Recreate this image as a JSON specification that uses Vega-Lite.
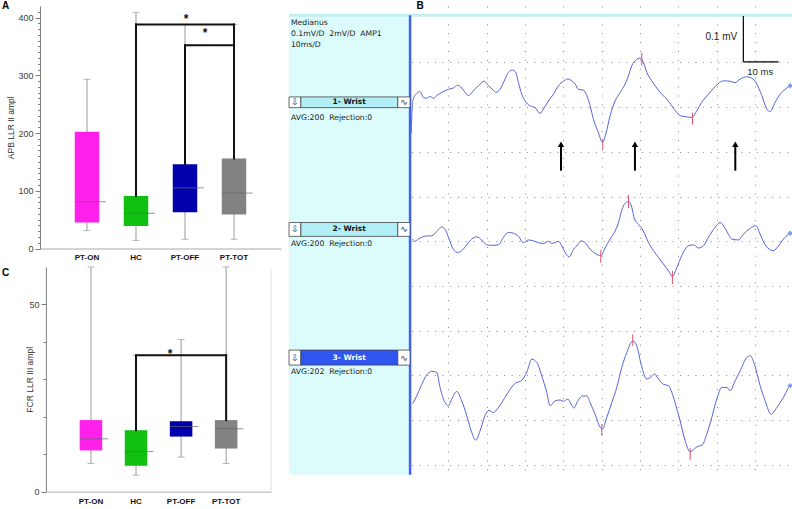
{
"$schema": "https://vega.github.io/schema/vega-lite/v6.json",
"background": "white",
"padding": {"left": 2, "top": 0, "right": 0, "bottom": 0},
"config": {"view": {"stroke": null}, "font": "Liberation Sans"},
"spacing": 6,
"hconcat": [
{
"bounds": "flush",
"spacing": 18,
"vconcat": [
{
"width": 241, "height": 242.5,
"title": {"text": "A", "anchor": "start", "frame": "group", "fontSize": 10, "fontWeight": "bold", "color": "#000000", "dx": -38, "offset": -4.8},
"data": {"values": [
{"group": "PT-ON", "lo": 31, "q1": 45, "med": 81, "q3": 202, "hi": 293},
{"group": "HC", "lo": 14, "q1": 39, "med": 61, "q3": 91, "hi": 409},
{"group": "PT-OFF", "lo": 16, "q1": 63, "med": 105, "q3": 146, "hi": 388},
{"group": "PT-TOT", "lo": 16, "q1": 59, "med": 96, "q3": 156, "hi": 388}
]},
"encoding": {"x": {"field": "group", "type": "nominal",
"scale": {"domain": ["PT-ON", "HC", "PT-OFF", "PT-TOT"], "paddingInner": 0.5, "paddingOuter": 0.709},
"axis": {"title": null, "ticks": false, "domainColor": "#a8a8a8", "labelFontSize": 8, "labelFontWeight": "bold", "labelColor": "#111111", "labelPadding": 5, "labelAngle": 0}}},
"resolve": {"axis": {"y": "independent"}},
"layer": [
{"layer": [
{"mark": {"type": "rule", "color": "#9a9a9a", "strokeWidth": 1},
"encoding": {"y": {"field": "lo", "type": "quantitative", "scale": {"domain": [0, 420], "nice": false},
"axis": {"orient": "left", "title": "APB LLR II ampl", "values": [0, 100, 200, 300, 400], "tickSize": 5,
"grid": false, "domainColor": "#808080", "tickColor": "#808080", "labelColor": "#404040", "labelFontSize": 9, "labelPadding": 2, "labelFlush": false,
"titleFontSize": 8.5, "titleFontWeight": "normal", "titleColor": "#333333", "titleX": -24.5}},
"y2": {"field": "hi"}}},
{"mark": {"type": "tick", "color": "#9a9a9a", "size": 7, "thickness": 1}, "encoding": {"y": {"field": "lo", "type": "quantitative"}}},
{"mark": {"type": "tick", "color": "#9a9a9a", "size": 7, "thickness": 1}, "encoding": {"y": {"field": "hi", "type": "quantitative"}}},
{"mark": {"type": "bar"}, "encoding": {"y": {"field": "q1", "type": "quantitative"}, "y2": {"field": "q3"},
"color": {"field": "group", "type": "nominal", "scale": {"domain": ["PT-ON", "HC", "PT-OFF", "PT-TOT"], "range": ["#ff20ec", "#12c012", "#0000ad", "#828282"]}, "legend": null}}},
{"mark": {"type": "tick", "color": "#666666", "size": 31, "thickness": 1, "xOffset": 3.25}, "encoding": {"y": {"field": "med", "type": "quantitative"}}},
{"data": {"values": [{}]}, "mark": {"type": "rule", "color": "#111111", "strokeWidth": 2, "strokeCap": "square"},
"encoding": {"x": {"datum": "HC", "type": "nominal"}, "y": {"datum": 91, "type": "quantitative"}, "y2": {"datum": 388}}},
{"data": {"values": [{}]}, "mark": {"type": "rule", "color": "#111111", "strokeWidth": 2, "strokeCap": "square"},
"encoding": {"x": {"datum": "HC", "type": "nominal"}, "x2": {"datum": "PT-TOT"}, "y": {"datum": 388, "type": "quantitative"}}},
{"data": {"values": [{}]}, "mark": {"type": "rule", "color": "#111111", "strokeWidth": 2, "strokeCap": "square"},
"encoding": {"x": {"datum": "PT-TOT", "type": "nominal"}, "y": {"datum": 156, "type": "quantitative"}, "y2": {"datum": 388}}},
{"data": {"values": [{}]}, "mark": {"type": "rule", "color": "#111111", "strokeWidth": 2, "strokeCap": "square"},
"encoding": {"x": {"datum": "PT-OFF", "type": "nominal"}, "y": {"datum": 146, "type": "quantitative"}, "y2": {"datum": 352}}},
{"data": {"values": [{}]}, "mark": {"type": "rule", "color": "#111111", "strokeWidth": 2, "strokeCap": "square"},
"encoding": {"x": {"datum": "PT-OFF", "type": "nominal"}, "x2": {"datum": "PT-TOT"}, "y": {"datum": 352, "type": "quantitative"}}},
{"data": {"values": [{}]}, "mark": {"type": "text", "text": "*", "fontSize": 12, "fontWeight": "bold", "baseline": "alphabetic", "xOffset": 1, "color": "#111111"},
"encoding": {"x": {"datum": "PT-OFF", "type": "nominal"}, "y": {"datum": 390, "type": "quantitative"}}},
{"data": {"values": [{}]}, "mark": {"type": "text", "text": "*", "fontSize": 12, "fontWeight": "bold", "baseline": "alphabetic", "xOffset": 20, "color": "#111111"},
"encoding": {"x": {"datum": "PT-OFF", "type": "nominal"}, "y": {"datum": 366, "type": "quantitative"}}}
]},
{"mark": {"type": "rule", "opacity": 0},
"encoding": {"y": {"field": "lo", "type": "quantitative",
"axis": {"orient": "left", "title": null, "labels": false, "domain": false, "grid": false, "tickSize": 2.5, "tickColor": "#808080",
"values": [0,10,20,30,40,50,60,70,80,90,100,110,120,130,140,150,160,170,180,190,200,210,220,230,240,250,260,270,280,290,300,310,320,330,340,350,360,370,380,390,400,410]}}}}
]
},
{
"width": 233, "height": 224.6,
"title": {"text": "C", "anchor": "start", "frame": "group", "fontSize": 10, "fontWeight": "bold", "color": "#000000", "dx": -38, "offset": -11.3},
"data": {"values": [
{"group": "PT-ON", "lo": 7.5, "q1": 11.0, "med": 14.1, "q3": 19.1, "hi": 60},
{"group": "HC", "lo": 4.4, "q1": 6.9, "med": 10.7, "q3": 16.4, "hi": 36.4},
{"group": "PT-OFF", "lo": 9.2, "q1": 14.7, "med": 17.4, "q3": 18.8, "hi": 40.6},
{"group": "PT-TOT", "lo": 7.5, "q1": 11.5, "med": 16.8, "q3": 19.1, "hi": 60}
]},
"encoding": {"x": {"field": "group", "type": "nominal",
"scale": {"domain": ["PT-ON", "HC", "PT-OFF", "PT-TOT"], "paddingInner": 0.5, "paddingOuter": 0.75, "range": [5.9, 231.2]},
"axis": {"title": null, "ticks": false, "domainColor": "#b0b0b0", "labelFontSize": 8, "labelFontWeight": "bold", "labelColor": "#111111", "labelPadding": 6, "labelAngle": 0}}},
"layer": [
{"mark": {"type": "rule", "color": "#9a9a9a", "strokeWidth": 1},
"encoding": {"y": {"field": "lo", "type": "quantitative", "scale": {"domain": [0, 60], "nice": false},
"axis": {"title": "FCR LLR III ampl", "values": [0,10,20,30,40,50],
"labelExpr": "datum.value % 50 === 0 ? datum.label : ''",
"tickSize": {"condition": {"test": "datum.value % 50 === 0", "value": 5}, "value": 3},
"offset": -5.9,
"grid": false, "domainColor": "#808080", "tickColor": "#808080", "labelColor": "#404040", "labelFontSize": 9, "labelPadding": 2, "labelOverlap": false, "labelFlush": false,
"titleFontSize": 8.5, "titleFontWeight": "normal", "titleColor": "#333333", "titleX": -11.2}},
"y2": {"field": "hi"}}},
{"mark": {"type": "tick", "color": "#9a9a9a", "size": 7, "thickness": 1}, "encoding": {"y": {"field": "lo", "type": "quantitative"}}},
{"mark": {"type": "tick", "color": "#9a9a9a", "size": 7, "thickness": 1}, "encoding": {"y": {"field": "hi", "type": "quantitative"}}},
{"mark": {"type": "bar"}, "encoding": {"y": {"field": "q1", "type": "quantitative"}, "y2": {"field": "q3"},
"color": {"field": "group", "type": "nominal", "scale": {"domain": ["PT-ON", "HC", "PT-OFF", "PT-TOT"], "range": ["#ff20ec", "#12c012", "#0000ad", "#828282"]}, "legend": null}}},
{"mark": {"type": "tick", "color": "#666666", "size": 28.5, "thickness": 1, "xOffset": 3}, "encoding": {"y": {"field": "med", "type": "quantitative"}}},
{"data": {"values": [{}]}, "mark": {"type": "rule", "color": "#e2e2e2", "strokeWidth": 1, "xOffset": 45},
"encoding": {"x": {"datum": "PT-TOT", "type": "nominal"}, "y": {"datum": 0, "type": "quantitative"}, "y2": {"datum": 59.6}}},
{"data": {"values": [{}]}, "mark": {"type": "rule", "color": "#111111", "strokeWidth": 2, "strokeCap": "square"},
"encoding": {"x": {"datum": "HC", "type": "nominal"}, "y": {"datum": 16.4, "type": "quantitative"}, "y2": {"datum": 36.4}}},
{"data": {"values": [{}]}, "mark": {"type": "rule", "color": "#111111", "strokeWidth": 2, "strokeCap": "square"},
"encoding": {"x": {"datum": "HC", "type": "nominal"}, "x2": {"datum": "PT-TOT"}, "y": {"datum": 36.4, "type": "quantitative"}}},
{"data": {"values": [{}]}, "mark": {"type": "rule", "color": "#111111", "strokeWidth": 2, "strokeCap": "square"},
"encoding": {"x": {"datum": "PT-TOT", "type": "nominal"}, "y": {"datum": 19.1, "type": "quantitative"}, "y2": {"datum": 36.4}}},
{"data": {"values": [{}]}, "mark": {"type": "text", "text": "*", "fontSize": 12, "fontWeight": "bold", "baseline": "alphabetic", "xOffset": -11, "color": "#111111"},
"encoding": {"x": {"datum": "PT-OFF", "type": "nominal"}, "y": {"datum": 35.6, "type": "quantitative"}}}
]
}
]
},
{
"width": 503, "height": 468.8,
"data": {"values": [{}]},
"layer": [
{"mark": {"type": "rect", "color": "#dcfcfc"},
"encoding": {"x": {"datum": -31.6, "type": "quantitative"}, "x2": {"datum": 0}, "y": {"datum": 1.0056, "type": "quantitative"}, "y2": {"datum": -0.0224}}},
{"mark": {"type": "rule", "color": "#c4eef0", "strokeWidth": 3},
"encoding": {"x": {"datum": -31.6, "type": "quantitative"}, "x2": {"datum": 99.7}, "y": {"datum": 1.0056, "type": "quantitative"}}},
{"data": {"values": [
{"trace":1,"ms":0.30,"mv":0.742},
{"trace":1,"ms":0.70,"mv":0.814},{"trace":1,"ms":1.74,"mv":0.831},{"trace":1,"ms":2.61,"mv":0.835},{"trace":1,"ms":3.48,"mv":0.822},{"trace":1,"ms":4.35,"mv":0.820},{"trace":1,"ms":5.22,"mv":0.824},{"trace":1,"ms":6.09,"mv":0.820},{"trace":1,"ms":6.96,"mv":0.826},{"trace":1,"ms":8.27,"mv":0.833},{"trace":1,"ms":10.01,"mv":0.840},{"trace":1,"ms":11.31,"mv":0.843},{"trace":1,"ms":12.45,"mv":0.849},{"trace":1,"ms":13.49,"mv":0.843},{"trace":1,"ms":14.36,"mv":0.833},{"trace":1,"ms":15.23,"mv":0.826},{"trace":1,"ms":16.54,"mv":0.837},{"trace":1,"ms":17.84,"mv":0.848},{"trace":1,"ms":19.41,"mv":0.858},{"trace":1,"ms":20.45,"mv":0.848},{"trace":1,"ms":21.76,"mv":0.838},{"trace":1,"ms":22.37,"mv":0.833},{"trace":1,"ms":23.50,"mv":0.840},{"trace":1,"ms":24.80,"mv":0.863},{"trace":1,"ms":25.67,"mv":0.878},{"trace":1,"ms":26.72,"mv":0.883},{"trace":1,"ms":27.59,"mv":0.878},{"trace":1,"ms":28.29,"mv":0.855},{"trace":1,"ms":29.16,"mv":0.829},{"trace":1,"ms":30.03,"mv":0.814},{"trace":1,"ms":31.33,"mv":0.803},{"trace":1,"ms":32.64,"mv":0.799},{"trace":1,"ms":33.94,"mv":0.786},{"trace":1,"ms":34.81,"mv":0.796},{"trace":1,"ms":36.12,"mv":0.814},{"trace":1,"ms":37.42,"mv":0.829},{"trace":1,"ms":38.73,"mv":0.848},{"trace":1,"ms":40.03,"mv":0.858},{"trace":1,"ms":41.17,"mv":0.863},{"trace":1,"ms":42.21,"mv":0.859},{"trace":1,"ms":43.08,"mv":0.852},{"trace":1,"ms":43.95,"mv":0.840},{"trace":1,"ms":45.26,"mv":0.838},{"trace":1,"ms":46.13,"mv":0.826},{"trace":1,"ms":47.00,"mv":0.803},{"trace":1,"ms":47.87,"mv":0.773},{"trace":1,"ms":49.17,"mv":0.743},{"trace":1,"ms":50.22,"mv":0.721},{"trace":1,"ms":51.09,"mv":0.740},{"trace":1,"ms":52.22,"mv":0.781},{"trace":1,"ms":53.52,"mv":0.814},{"trace":1,"ms":54.83,"mv":0.833},{"trace":1,"ms":56.14,"mv":0.852},{"trace":1,"ms":57.01,"mv":0.870},{"trace":1,"ms":57.88,"mv":0.893},{"trace":1,"ms":58.92,"mv":0.905},{"trace":1,"ms":60.05,"mv":0.910},{"trace":1,"ms":60.92,"mv":0.900},{"trace":1,"ms":61.79,"mv":0.878},{"trace":1,"ms":63.10,"mv":0.859},{"trace":1,"ms":64.40,"mv":0.843},{"trace":1,"ms":65.71,"mv":0.829},{"trace":1,"ms":67.01,"mv":0.818},{"trace":1,"ms":68.32,"mv":0.803},{"trace":1,"ms":69.63,"mv":0.788},{"trace":1,"ms":70.50,"mv":0.781},{"trace":1,"ms":71.80,"mv":0.779},{"trace":1,"ms":73.54,"mv":0.777},{"trace":1,"ms":74.85,"mv":0.792},{"trace":1,"ms":76.15,"mv":0.811},{"trace":1,"ms":77.89,"mv":0.829},{"trace":1,"ms":79.63,"mv":0.846},{"trace":1,"ms":81.81,"mv":0.859},{"trace":1,"ms":83.55,"mv":0.858},{"trace":1,"ms":84.86,"mv":0.855},{"trace":1,"ms":86.16,"mv":0.863},{"trace":1,"ms":87.90,"mv":0.868},{"trace":1,"ms":89.21,"mv":0.865},{"trace":1,"ms":90.51,"mv":0.852},{"trace":1,"ms":91.82,"mv":0.826},{"trace":1,"ms":93.12,"mv":0.796},{"trace":1,"ms":93.99,"mv":0.790},{"trace":1,"ms":95.30,"mv":0.811},{"trace":1,"ms":96.61,"mv":0.829},{"trace":1,"ms":97.91,"mv":0.840},{"trace":1,"ms":98.78,"mv":0.846},
{"trace":2,"ms":0.70,"mv":0.505},{"trace":2,"ms":1.31,"mv":0.500},{"trace":2,"ms":2.18,"mv":0.505},{"trace":2,"ms":3.05,"mv":0.509},{"trace":2,"ms":4.35,"mv":0.512},{"trace":2,"ms":5.66,"mv":0.512},{"trace":2,"ms":6.96,"mv":0.522},{"trace":2,"ms":8.27,"mv":0.532},{"trace":2,"ms":9.14,"mv":0.527},{"trace":2,"ms":10.01,"mv":0.509},{"trace":2,"ms":11.31,"mv":0.482},{"trace":2,"ms":12.45,"mv":0.475},{"trace":2,"ms":13.49,"mv":0.479},{"trace":2,"ms":14.80,"mv":0.492},{"trace":2,"ms":16.10,"mv":0.505},{"trace":2,"ms":17.41,"mv":0.510},{"trace":2,"ms":18.71,"mv":0.503},{"trace":2,"ms":20.02,"mv":0.492},{"trace":2,"ms":21.32,"mv":0.491},{"trace":2,"ms":23.06,"mv":0.492},{"trace":2,"ms":24.37,"mv":0.509},{"trace":2,"ms":25.67,"mv":0.520},{"trace":2,"ms":26.98,"mv":0.518},{"trace":2,"ms":28.29,"mv":0.511},{"trace":2,"ms":29.59,"mv":0.497},{"trace":2,"ms":30.90,"mv":0.503},{"trace":2,"ms":32.20,"mv":0.501},{"trace":2,"ms":33.51,"mv":0.497},{"trace":2,"ms":34.81,"mv":0.495},{"trace":2,"ms":36.12,"mv":0.500},{"trace":2,"ms":36.99,"mv":0.495},{"trace":2,"ms":37.86,"mv":0.497},{"trace":2,"ms":38.73,"mv":0.500},{"trace":2,"ms":39.60,"mv":0.490},{"trace":2,"ms":40.47,"mv":0.475},{"trace":2,"ms":41.51,"mv":0.465},{"trace":2,"ms":42.65,"mv":0.482},{"trace":2,"ms":43.78,"mv":0.492},{"trace":2,"ms":44.65,"mv":0.501},{"trace":2,"ms":45.69,"mv":0.497},{"trace":2,"ms":47.00,"mv":0.482},{"trace":2,"ms":48.30,"mv":0.473},{"trace":2,"ms":49.78,"mv":0.468},{"trace":2,"ms":50.91,"mv":0.485},{"trace":2,"ms":52.22,"mv":0.505},{"trace":2,"ms":53.52,"mv":0.523},{"trace":2,"ms":54.40,"mv":0.542},{"trace":2,"ms":55.27,"mv":0.570},{"trace":2,"ms":56.14,"mv":0.585},{"trace":2,"ms":57.01,"mv":0.589},{"trace":2,"ms":57.88,"mv":0.576},{"trace":2,"ms":58.57,"mv":0.550},{"trace":2,"ms":59.62,"mv":0.538},{"trace":2,"ms":60.92,"mv":0.523},{"trace":2,"ms":62.23,"mv":0.497},{"trace":2,"ms":63.53,"mv":0.479},{"trace":2,"ms":64.84,"mv":0.464},{"trace":2,"ms":66.14,"mv":0.449},{"trace":2,"ms":67.45,"mv":0.434},{"trace":2,"ms":68.49,"mv":0.421},{"trace":2,"ms":69.63,"mv":0.441},{"trace":2,"ms":70.93,"mv":0.468},{"trace":2,"ms":72.67,"mv":0.490},{"trace":2,"ms":73.98,"mv":0.492},{"trace":2,"ms":75.28,"mv":0.485},{"trace":2,"ms":76.59,"mv":0.490},{"trace":2,"ms":77.89,"mv":0.509},{"trace":2,"ms":79.63,"mv":0.531},{"trace":2,"ms":80.94,"mv":0.542},{"trace":2,"ms":82.25,"mv":0.529},{"trace":2,"ms":83.99,"mv":0.505},{"trace":2,"ms":85.73,"mv":0.503},{"trace":2,"ms":87.03,"mv":0.516},{"trace":2,"ms":88.77,"mv":0.529},{"trace":2,"ms":90.25,"mv":0.535},{"trace":2,"ms":91.38,"mv":0.516},{"trace":2,"ms":92.69,"mv":0.492},{"trace":2,"ms":94.86,"mv":0.479},{"trace":2,"ms":96.17,"mv":0.490},{"trace":2,"ms":97.48,"mv":0.505},{"trace":2,"ms":98.78,"mv":0.516},
{"trace":3,"ms":0.70,"mv":0.137},{"trace":3,"ms":1.74,"mv":0.154},{"trace":3,"ms":3.05,"mv":0.180},{"trace":3,"ms":4.35,"mv":0.201},{"trace":3,"ms":5.66,"mv":0.209},{"trace":3,"ms":6.96,"mv":0.207},{"trace":3,"ms":7.83,"mv":0.173},{"trace":3,"ms":9.14,"mv":0.139},{"trace":3,"ms":10.01,"mv":0.132},{"trace":3,"ms":10.88,"mv":0.147},{"trace":3,"ms":12.18,"mv":0.164},{"trace":3,"ms":13.49,"mv":0.143},{"trace":3,"ms":14.80,"mv":0.110},{"trace":3,"ms":16.10,"mv":0.072},{"trace":3,"ms":17.15,"mv":0.055},{"trace":3,"ms":18.28,"mv":0.076},{"trace":3,"ms":19.58,"mv":0.110},{"trace":3,"ms":20.63,"mv":0.122},{"trace":3,"ms":21.76,"mv":0.117},{"trace":3,"ms":23.06,"mv":0.128},{"trace":3,"ms":24.80,"mv":0.151},{"trace":3,"ms":26.11,"mv":0.169},{"trace":3,"ms":27.42,"mv":0.182},{"trace":3,"ms":29.16,"mv":0.189},{"trace":3,"ms":30.46,"mv":0.207},{"trace":3,"ms":31.77,"mv":0.236},{"trace":3,"ms":33.07,"mv":0.229},{"trace":3,"ms":34.38,"mv":0.199},{"trace":3,"ms":35.68,"mv":0.162},{"trace":3,"ms":36.55,"mv":0.132},{"trace":3,"ms":37.86,"mv":0.143},{"trace":3,"ms":39.16,"mv":0.145},{"trace":3,"ms":40.03,"mv":0.142},{"trace":3,"ms":41.17,"mv":0.147},{"trace":3,"ms":42.04,"mv":0.136},{"trace":3,"ms":42.73,"mv":0.127},{"trace":3,"ms":43.78,"mv":0.143},{"trace":3,"ms":45.08,"mv":0.154},{"trace":3,"ms":46.13,"mv":0.154},{"trace":3,"ms":47.00,"mv":0.139},{"trace":3,"ms":48.30,"mv":0.113},{"trace":3,"ms":49.61,"mv":0.084},{"trace":3,"ms":50.22,"mv":0.080},{"trace":3,"ms":51.35,"mv":0.106},{"trace":3,"ms":52.65,"mv":0.139},{"trace":3,"ms":53.96,"mv":0.173},{"trace":3,"ms":55.27,"mv":0.218},{"trace":3,"ms":56.57,"mv":0.251},{"trace":3,"ms":58.14,"mv":0.277},{"trace":3,"ms":59.18,"mv":0.266},{"trace":3,"ms":60.31,"mv":0.225},{"trace":3,"ms":61.79,"mv":0.192},{"trace":3,"ms":62.66,"mv":0.195},{"trace":3,"ms":63.79,"mv":0.203},{"trace":3,"ms":64.84,"mv":0.192},{"trace":3,"ms":66.14,"mv":0.180},{"trace":3,"ms":67.45,"mv":0.177},{"trace":3,"ms":68.32,"mv":0.162},{"trace":3,"ms":69.19,"mv":0.139},{"trace":3,"ms":70.50,"mv":0.098},{"trace":3,"ms":71.80,"mv":0.054},{"trace":3,"ms":73.11,"mv":0.029},{"trace":3,"ms":74.85,"mv":0.040},{"trace":3,"ms":76.33,"mv":0.045},{"trace":3,"ms":77.46,"mv":0.069},{"trace":3,"ms":78.76,"mv":0.106},{"trace":3,"ms":80.07,"mv":0.147},{"trace":3,"ms":81.38,"mv":0.173},{"trace":3,"ms":82.68,"mv":0.173},{"trace":3,"ms":83.55,"mv":0.166},{"trace":3,"ms":84.86,"mv":0.188},{"trace":3,"ms":86.16,"mv":0.210},{"trace":3,"ms":87.90,"mv":0.240},{"trace":3,"ms":88.77,"mv":0.244},{"trace":3,"ms":89.90,"mv":0.225},{"trace":3,"ms":91.38,"mv":0.177},{"trace":3,"ms":92.69,"mv":0.143},{"trace":3,"ms":94.25,"mv":0.113},{"trace":3,"ms":95.73,"mv":0.128},{"trace":3,"ms":97.48,"mv":0.151},{"trace":3,"ms":98.78,"mv":0.173}
]},
"mark": {"type": "line", "color": "#5464d8", "strokeWidth": 1, "interpolate": "monotone"},
"encoding": {
"x": {"field": "ms", "type": "quantitative", "scale": {"domain": [-31.6, 99.7], "nice": false, "zero": false},
"axis": {"title": null, "labels": false, "ticks": false, "domain": false, "grid": true, "values": [10,20,30,40,50,60,70,80,90], "gridColor": "#8a8a8a", "gridDash": [1, 7.9], "gridWidth": 1}},
"y": {"field": "mv", "type": "quantitative", "scale": {"domain": [-0.0224, 1.0264], "nice": false, "zero": false},
"axis": {"title": null, "labels": false, "ticks": false, "domain": false, "grid": true, "values": [0, 0.1, 0.2, 0.3, 0.4, 0.5, 0.6, 0.7, 0.8, 0.9], "gridColor": "#8a8a8a", "gridDash": [1, 6.66], "gridWidth": 1}},
"detail": {"field": "trace", "type": "nominal"}}},
{"mark": {"type": "rule", "color": "#4262ee", "strokeWidth": 2.5},
"encoding": {"x": {"datum": 0, "type": "quantitative"}, "y": {"datum": 1.0056, "type": "quantitative"}, "y2": {"datum": -0.0224}}},
{"data": {"values": [
{"trace":1,"ms":60.49,"top":0.922,"bot":0.893},{"trace":1,"ms":50.3,"top":0.729,"bot":0.706},{"trace":1,"ms":73.72,"top":0.788,"bot":0.761},
{"trace":2,"ms":49.78,"top":0.480,"bot":0.452},{"trace":2,"ms":57.01,"top":0.604,"bot":0.574},{"trace":2,"ms":68.49,"top":0.434,"bot":0.404},
{"trace":3,"ms":50.04,"top":0.091,"bot":0.065},{"trace":3,"ms":58.14,"top":0.292,"bot":0.266},{"trace":3,"ms":73.11,"top":0.037,"bot":0.010}
]},
"mark": {"type": "rule", "color": "#e0506a", "strokeWidth": 1},
"encoding": {"x": {"field": "ms", "type": "quantitative"}, "y": {"field": "top", "type": "quantitative"}, "y2": {"field": "bot"}}},
{"data": {"values": [{"trace":1,"mv":0.848},{"trace":2,"mv":0.518},{"trace":3,"mv":0.177}]},
"mark": {"type": "point", "shape": "diamond", "filled": true, "color": "#7b98f0", "size": 28, "opacity": 1},
"encoding": {"x": {"datum": 99.2, "type": "quantitative"}, "y": {"field": "mv", "type": "quantitative"}}},
{"data": {"values": [{"ms": 39.4}, {"ms": 58.7}, {"ms": 84.9}]},
"mark": {"type": "rule", "color": "#000000", "strokeWidth": 2},
"encoding": {"x": {"field": "ms", "type": "quantitative"}, "y": {"datum": 0.658, "type": "quantitative"}, "y2": {"datum": 0.712}}},
{"data": {"values": [{"ms": 39.4}, {"ms": 58.7}, {"ms": 84.9}]},
"mark": {"type": "point", "shape": "triangle-up", "filled": true, "color": "#000000", "size": 40, "opacity": 1},
"encoding": {"x": {"field": "ms", "type": "quantitative"}, "y": {"datum": 0.717, "type": "quantitative"}}},
{"mark": {"type": "rule", "color": "#000000", "strokeWidth": 1.2},
"encoding": {"x": {"datum": 87.0, "type": "quantitative"}, "y": {"datum": 1.004, "type": "quantitative"}, "y2": {"datum": 0.9016}}},
{"mark": {"type": "rule", "color": "#000000", "strokeWidth": 1.2},
"encoding": {"x": {"datum": 87.0, "type": "quantitative"}, "x2": {"datum": 96.2}, "y": {"datum": 0.9016, "type": "quantitative"}}},
{"mark": {"type": "text", "text": "0.1 mV", "align": "right", "baseline": "middle", "fontSize": 10, "color": "#222222"},
"encoding": {"x": {"datum": 85.4, "type": "quantitative"}, "y": {"datum": 0.957, "type": "quantitative"}}},
{"mark": {"type": "text", "text": "10 ms", "align": "center", "baseline": "middle", "fontSize": 9.5, "color": "#222222"},
"encoding": {"x": {"datum": 91.4, "type": "quantitative"}, "y": {"datum": 0.879, "type": "quantitative"}}},
{"mark": {"type": "text", "text": "B", "align": "center", "baseline": "top", "fontSize": 10, "fontWeight": "bold", "color": "#000000"},
"encoding": {"x": {"datum": 2.6, "type": "quantitative"}, "y": {"datum": 1.038, "type": "quantitative"}}},
{"mark": {"type": "text", "align": "left", "baseline": "top", "font": "DejaVu Sans", "fontSize": 7.7, "lineHeight": 11, "color": "#222222", "text": ["Medianus", "0.1mV/D\u00a0 2mV/D\u00a0 AMP1", "10ms/D"]},
"encoding": {"x": {"datum": -31.1, "type": "quantitative"}, "y": {"datum": 0.998, "type": "quantitative"}}},

{"mark": {"type": "rect", "fill": "#ffffff", "stroke": "#444444", "strokeWidth": 0.8},
"encoding": {"x": {"datum": -31.6, "type": "quantitative"}, "x2": {"datum": -28.5}, "y": {"datum": 0.823, "type": "quantitative"}, "y2": {"datum": 0.799}}},
{"mark": {"type": "rect", "fill": "#b2eef5", "stroke": "#444444", "strokeWidth": 0.8},
"encoding": {"x": {"datum": -28.5, "type": "quantitative"}, "x2": {"datum": -3.2}, "y": {"datum": 0.823, "type": "quantitative"}, "y2": {"datum": 0.799}}},
{"mark": {"type": "rect", "fill": "#ffffff", "stroke": "#444444", "strokeWidth": 0.8},
"encoding": {"x": {"datum": -3.2, "type": "quantitative"}, "x2": {"datum": 0}, "y": {"datum": 0.823, "type": "quantitative"}, "y2": {"datum": 0.799}}},
{"mark": {"type": "text", "text": "⇩", "align": "center", "baseline": "middle", "font": "DejaVu Sans", "fontSize": 9, "color": "#333333"},
"encoding": {"x": {"datum": -30.05, "type": "quantitative"}, "y": {"datum": 0.811, "type": "quantitative"}}},
{"mark": {"type": "text", "text": "∿", "align": "center", "baseline": "middle", "font": "DejaVu Sans", "fontSize": 9, "color": "#333333"},
"encoding": {"x": {"datum": -1.6, "type": "quantitative"}, "y": {"datum": 0.811, "type": "quantitative"}}},
{"mark": {"type": "text", "text": "1- Wrist", "align": "center", "baseline": "middle", "font": "DejaVu Sans", "fontSize": 7.5, "fontWeight": "bold", "color": "#111111"},
"encoding": {"x": {"datum": -15.9, "type": "quantitative"}, "y": {"datum": 0.811, "type": "quantitative"}}},
{"mark": {"type": "text", "text": "AVG:200\u00a0 Rejection:0", "align": "left", "baseline": "middle", "font": "DejaVu Sans", "fontSize": 7.7, "color": "#222222"},
"encoding": {"x": {"datum": -31.07, "type": "quantitative"}, "y": {"datum": 0.776, "type": "quantitative"}}},

{"mark": {"type": "rect", "fill": "#ffffff", "stroke": "#444444", "strokeWidth": 0.8},
"encoding": {"x": {"datum": -31.6, "type": "quantitative"}, "x2": {"datum": -28.5}, "y": {"datum": 0.542, "type": "quantitative"}, "y2": {"datum": 0.511}}},
{"mark": {"type": "rect", "fill": "#b2eef5", "stroke": "#444444", "strokeWidth": 0.8},
"encoding": {"x": {"datum": -28.5, "type": "quantitative"}, "x2": {"datum": -3.2}, "y": {"datum": 0.542, "type": "quantitative"}, "y2": {"datum": 0.511}}},
{"mark": {"type": "rect", "fill": "#ffffff", "stroke": "#444444", "strokeWidth": 0.8},
"encoding": {"x": {"datum": -3.2, "type": "quantitative"}, "x2": {"datum": 0}, "y": {"datum": 0.542, "type": "quantitative"}, "y2": {"datum": 0.511}}},
{"mark": {"type": "text", "text": "⇩", "align": "center", "baseline": "middle", "font": "DejaVu Sans", "fontSize": 9, "color": "#333333"},
"encoding": {"x": {"datum": -30.05, "type": "quantitative"}, "y": {"datum": 0.5265, "type": "quantitative"}}},
{"mark": {"type": "text", "text": "∿", "align": "center", "baseline": "middle", "font": "DejaVu Sans", "fontSize": 9, "color": "#333333"},
"encoding": {"x": {"datum": -1.6, "type": "quantitative"}, "y": {"datum": 0.5265, "type": "quantitative"}}},
{"mark": {"type": "text", "text": "2- Wrist", "align": "center", "baseline": "middle", "font": "DejaVu Sans", "fontSize": 7.5, "fontWeight": "bold", "color": "#111111"},
"encoding": {"x": {"datum": -15.9, "type": "quantitative"}, "y": {"datum": 0.5265, "type": "quantitative"}}},
{"mark": {"type": "text", "text": "AVG:200\u00a0 Rejection:0", "align": "left", "baseline": "middle", "font": "DejaVu Sans", "fontSize": 7.7, "color": "#222222"},
"encoding": {"x": {"datum": -31.07, "type": "quantitative"}, "y": {"datum": 0.495, "type": "quantitative"}}},

{"mark": {"type": "rect", "fill": "#ffffff", "stroke": "#444444", "strokeWidth": 0.8},
"encoding": {"x": {"datum": -31.6, "type": "quantitative"}, "x2": {"datum": -28.5}, "y": {"datum": 0.2566, "type": "quantitative"}, "y2": {"datum": 0.223}}},
{"mark": {"type": "rect", "fill": "#2f55f0", "stroke": "#444444", "strokeWidth": 0.8},
"encoding": {"x": {"datum": -28.5, "type": "quantitative"}, "x2": {"datum": -3.2}, "y": {"datum": 0.2566, "type": "quantitative"}, "y2": {"datum": 0.223}}},
{"mark": {"type": "rect", "fill": "#ffffff", "stroke": "#444444", "strokeWidth": 0.8},
"encoding": {"x": {"datum": -3.2, "type": "quantitative"}, "x2": {"datum": 0}, "y": {"datum": 0.2566, "type": "quantitative"}, "y2": {"datum": 0.223}}},
{"mark": {"type": "text", "text": "⇩", "align": "center", "baseline": "middle", "font": "DejaVu Sans", "fontSize": 9, "color": "#333333"},
"encoding": {"x": {"datum": -30.05, "type": "quantitative"}, "y": {"datum": 0.240, "type": "quantitative"}}},
{"mark": {"type": "text", "text": "∿", "align": "center", "baseline": "middle", "font": "DejaVu Sans", "fontSize": 9, "color": "#333333"},
"encoding": {"x": {"datum": -1.6, "type": "quantitative"}, "y": {"datum": 0.240, "type": "quantitative"}}},
{"mark": {"type": "text", "text": "3- Wrist", "align": "center", "baseline": "middle", "font": "DejaVu Sans", "fontSize": 7.5, "fontWeight": "bold", "color": "#ffffff"},
"encoding": {"x": {"datum": -15.9, "type": "quantitative"}, "y": {"datum": 0.240, "type": "quantitative"}}},
{"mark": {"type": "text", "text": "AVG:202\u00a0 Rejection:0", "align": "left", "baseline": "middle", "font": "DejaVu Sans", "fontSize": 7.7, "color": "#222222"},
"encoding": {"x": {"datum": -31.07, "type": "quantitative"}, "y": {"datum": 0.208, "type": "quantitative"}}}
]
}
]
}
